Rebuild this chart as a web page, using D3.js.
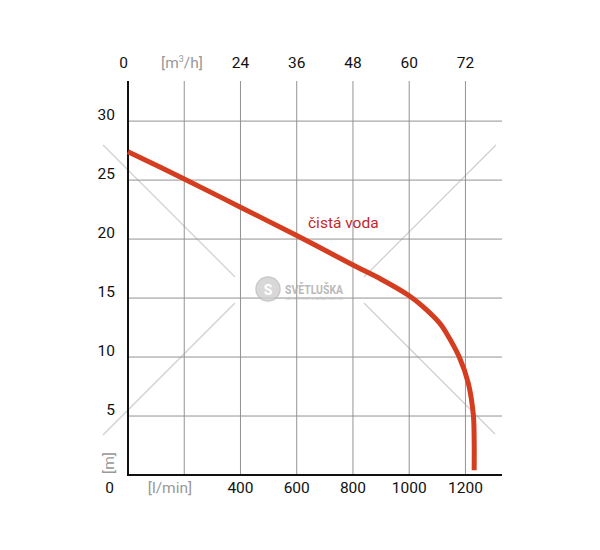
<!DOCTYPE html>
<html>
<head>
<meta charset="utf-8">
<script src="https://cdn.jsdelivr.net/npm/d3@7"></script>
<style>
  body { margin: 0; background: #fff; }
  svg text { font-family: Roboto, "DejaVu Sans", sans-serif; }
</style>
</head>
<body>
<svg id="chart" width="600" height="550"></svg>
<script>
// pump curve, flow in l/min vs head in m
const flowLmin = [0, 200, 400, 600, 800, 900, 1000, 1050, 1109, 1133, 1178, 1210, 1228, 1231, 1231];
const headM    = [27.4, 25.1, 22.7, 20.3, 17.8, 16.6, 15.2, 14.25, 12.85, 12.0, 10.0, 7.8, 5.1, 3.0, 0.4];

const bottomTicks = [400, 600, 800, 1000, 1200];
const topTicks = [24, 36, 48, 60, 72];
const gridX = [200, 400, 600, 800, 1000, 1200];
const gridY = [5, 10, 15, 20, 25, 30];
const yTicks = [5, 10, 15, 20, 25, 30];
const seriesName = "čistá voda";

const svg = d3.select("#chart");

const x = d3.scaleLinear().domain([0, 1330]).range([128, 502]);
const xTop = d3.scaleLinear().domain([0, 1330 * 0.06]).range([128, 502]);
const y = d3.scaleLinear().domain([0, 33.4]).range([475, 81]);

// watermark diagonals
const diag = svg.append("g").attr("stroke", "#cfcfcf").attr("stroke-width", 1.2);
[[103, 145, 235, 277], [364, 303, 495, 434], [496, 145, 364, 277], [235, 303, 103, 435]]
  .forEach(d => diag.append("line").attr("x1", d[0]).attr("y1", d[1]).attr("x2", d[2]).attr("y2", d[3]));

// grid
svg.append("g").selectAll("line").data(gridX).join("line")
  .attr("x1", d => x(d)).attr("x2", d => x(d))
  .attr("y1", y.range()[1]).attr("y2", y(0))
  .attr("stroke", "#939393").attr("stroke-width", 1);
svg.append("g").selectAll("line").data(gridY).join("line")
  .attr("x1", x(0)).attr("x2", x.range()[1])
  .attr("y1", d => y(d)).attr("y2", d => y(d))
  .attr("stroke", "#939393").attr("stroke-width", 1);

// watermark logo
const wm = svg.append("g").attr("opacity", 0.8);
wm.append("circle").attr("cx", 268).attr("cy", 289).attr("r", 12)
  .attr("fill", "#cfcfcf").attr("stroke", "#bdbdbd").attr("stroke-width", 1.5);
wm.append("text").attr("x", 268).attr("y", 294.5).attr("text-anchor", "middle")
  .attr("font-size", 14).attr("font-weight", "bold").attr("fill", "#fff").text("S");
wm.append("text").attr("x", 285).attr("y", 293.5)
  .attr("font-size", 13.5).attr("font-weight", "bold").attr("fill", "#a9a9a9")
  .attr("textLength", 58).attr("lengthAdjust", "spacingAndGlyphs").text("SVĚTLUŠKA");
wm.append("text").attr("x", 285).attr("y", 299.5)
  .attr("font-size", 3.5).attr("fill", "#bbb")
  .attr("textLength", 58).text("VÁŠ SVĚTELNÝ A NÁŘADÍ OBCHOD");

// axes lines
svg.append("line").attr("x1", x(0)).attr("x2", x(0)).attr("y1", y.range()[1]).attr("y2", y(0) + 1)
  .attr("stroke", "#111").attr("stroke-width", 2);
svg.append("line").attr("x1", x(0) - 1).attr("x2", x.range()[1]).attr("y1", y(0)).attr("y2", y(0))
  .attr("stroke", "#111").attr("stroke-width", 2);

// curve
const line = d3.line()
  .x((d, i) => x(flowLmin[i]))
  .y(d => y(d))
  .curve(d3.curveCatmullRom.alpha(0.5));
svg.append("path").datum(headM)
  .attr("d", line)
  .attr("fill", "none")
  .attr("stroke", "#d43d1f")
  .attr("stroke-width", 5);

svg.append("text").attr("x", 308).attr("y", 228)
  .attr("font-size", 15.5).attr("fill", "#c2282a").text(seriesName);

// labels
const fs = 15.5;
svg.append("g").selectAll("text").data(bottomTicks).join("text")
  .attr("x", d => x(d)).attr("y", 493).attr("text-anchor", "middle")
  .attr("font-size", fs).attr("fill", "#111").text(d => d);
svg.append("text").attr("x", 109.5).attr("y", 493).attr("text-anchor", "middle")
  .attr("font-size", fs).attr("fill", "#111").text("0");
svg.append("text").attr("x", 170).attr("y", 493).attr("text-anchor", "middle")
  .attr("font-size", fs).attr("fill", "#999").text("[l/min]");

svg.append("g").selectAll("text").data(topTicks).join("text")
  .attr("x", d => xTop(d)).attr("y", 68).attr("text-anchor", "middle")
  .attr("font-size", fs).attr("fill", "#111").text(d => d);
svg.append("text").attr("x", 123.5).attr("y", 68).attr("text-anchor", "middle")
  .attr("font-size", fs).attr("fill", "#111").text("0");
const unitTop = svg.append("text").attr("x", 182).attr("y", 68).attr("text-anchor", "middle")
  .attr("font-size", fs).attr("fill", "#999");
unitTop.append("tspan").text("[m");
unitTop.append("tspan").attr("dy", -6).attr("font-size", 9).text("3");
unitTop.append("tspan").attr("dy", 6).text("/h]");

svg.append("g").selectAll("text").data(yTicks).join("text")
  .attr("x", 115).attr("y", d => y(d) - 1).attr("text-anchor", "end")
  .attr("font-size", fs).attr("fill", "#111").text(d => d);
svg.append("text").attr("transform", "translate(114,463) rotate(-90)")
  .attr("text-anchor", "middle").attr("font-size", fs).attr("fill", "#999").text("[m]");
</script>
</body>
</html>
